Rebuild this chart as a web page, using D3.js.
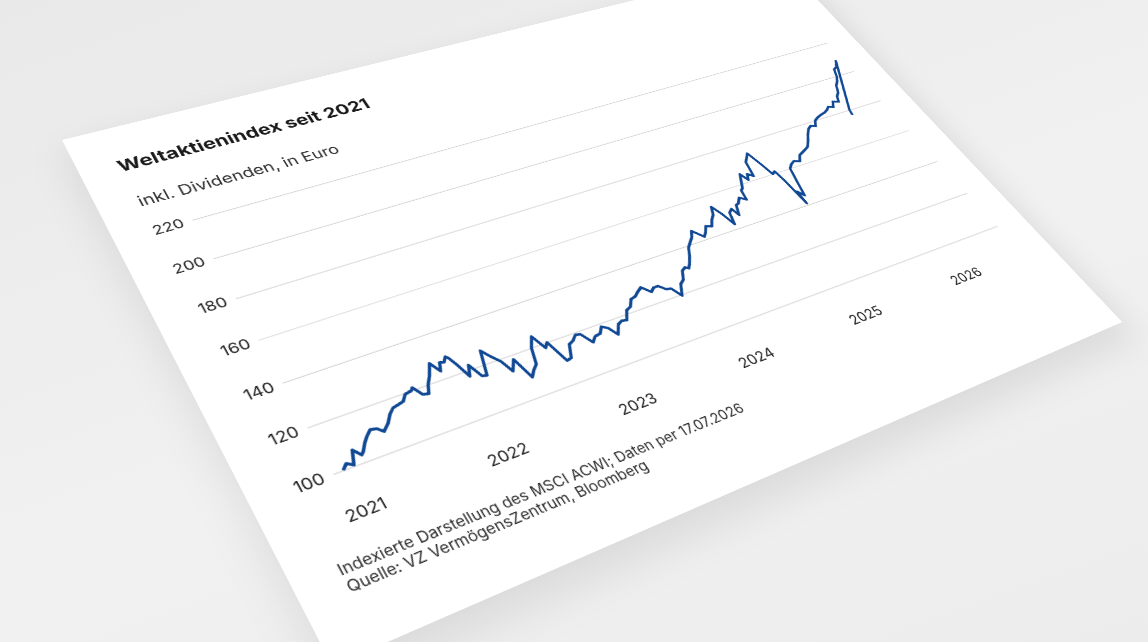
<!DOCTYPE html>
<html>
<head>
<meta charset="utf-8">
<script src="https://cdn.jsdelivr.net/npm/d3@7"></script>
<style>
	html, body { margin: 0; padding: 0; }
	body {
		width: 1148px; height: 642px; overflow: hidden; position: relative;
		background: linear-gradient(160deg, #e9e9ea 0%, #f1f1f2 55%, #ececed 100%);
		font-family: Inter, "Open Sans", sans-serif;
	}
	#card {
		position: absolute; left: 0; top: 0;
		transform-origin: 0 0;
		background: #fff;
		box-shadow: 0 20px 50px rgba(0,0,0,0.10);
	}
	.grid line { stroke: #d4d4d4; stroke-width: 1.2; }
	.tick text { fill: #222; }
</style>
</head>
<body>
<div id="card"></div>
<script>
"use strict";

/* global d3 */

// Index series (MSCI ACWI, EUR, indexed to 100)
var dates = [
	// 2021
	"2021-01-01","2021-01-15","2021-01-29","2021-02-12","2021-02-26","2021-03-05","2021-03-19",
	"2021-03-31","2021-04-15","2021-04-30","2021-05-12","2021-05-31","2021-06-15","2021-06-30",
	"2021-07-15","2021-07-30","2021-08-13","2021-08-31","2021-09-06","2021-09-20","2021-10-04",
	"2021-10-15","2021-10-29","2021-11-16","2021-11-30","2021-12-10","2021-12-20","2021-12-31",
	// 2022
	"2022-01-05","2022-01-14","2022-01-27","2022-02-09","2022-02-24","2022-03-08","2022-03-29",
	"2022-04-12","2022-04-29","2022-05-12","2022-05-31","2022-06-16","2022-06-30","2022-07-15",
	"2022-07-29","2022-08-16","2022-08-31","2022-09-12","2022-09-30","2022-10-14","2022-10-31",
	"2022-11-15","2022-11-30","2022-12-13","2022-12-30",
	// 2023
	"2023-01-13","2023-01-31","2023-02-14","2023-02-28","2023-03-13","2023-03-31","2023-04-14",
	"2023-04-28","2023-05-15","2023-05-31","2023-06-15","2023-06-30","2023-07-14","2023-07-31",
	"2023-08-18","2023-08-31","2023-09-15","2023-09-29","2023-10-13","2023-10-27","2023-11-15",
	"2023-11-30","2023-12-15","2023-12-29",
	// 2024
	"2024-01-05","2024-01-17","2024-01-31","2024-02-15","2024-02-29","2024-03-15","2024-03-28",
	"2024-04-19","2024-04-30","2024-05-15","2024-05-31","2024-06-14","2024-06-28","2024-07-10",
	"2024-07-24","2024-08-05","2024-08-16","2024-08-30","2024-09-06","2024-09-20","2024-09-30",
	"2024-10-15","2024-10-31","2024-11-06","2024-11-15","2024-11-29","2024-12-10","2024-12-20",
	"2024-12-31",
	// 2025
	"2025-01-13","2025-01-24","2025-01-31","2025-02-18","2025-03-04","2025-03-13","2025-03-25",
	"2025-03-31","2025-04-08","2025-04-09","2025-04-21","2025-05-02","2025-05-15","2025-05-30",
	"2025-06-13","2025-06-30","2025-07-15","2025-07-31","2025-08-15","2025-08-29","2025-09-15",
	"2025-09-30","2025-10-15","2025-10-31","2025-11-14","2025-11-28","2025-12-12","2025-12-31",
	// 2026
	"2026-01-15","2026-01-30","2026-02-13","2026-02-27","2026-03-13","2026-03-31","2026-04-09",
	"2026-04-24","2026-05-08","2026-05-22","2026-06-05","2026-06-16","2026-06-30","2026-07-10",
	"2026-07-17","2026-04-10","2026-04-05"
];
var values = [
	// 2021
	100, 102, 100.5, 106, 103, 104, 107,
	109, 111, 110.5, 108.5, 111, 114, 116,
	116.5, 117, 119.5, 120, 121, 117, 116.5,
	120, 123, 128, 123.5, 127, 126.5, 128.5,
	// 2022
	127.5, 124, 117.5, 122, 116, 115.5, 126,
	122.5, 119, 113.5, 118, 108.5, 111, 113,
	120, 124.5, 118, 120, 110, 110.5, 116,
	117, 119, 118.5, 113.5,
	// 2023
	115.5, 116, 118.5, 117, 113, 117, 118,
	117.5, 121.5, 122.5, 125.5, 126, 127.5, 129,
	125.5, 127, 127, 124.5, 124, 119.5, 124.5,
	126, 130, 131,
	// 2024
	130, 132, 135, 139, 141, 143, 146,
	141.5, 143, 146, 145, 148, 150, 154,
	149, 142.5, 148.5, 150, 146, 151, 151.5,
	154, 152, 157, 158, 162, 165, 161,
	164,
	// 2025
	162, 170, 171, 174, 166, 160, 161,
	155, 141, 148, 145, 152, 160, 162,
	163, 162, 165, 166, 167, 168, 171,
	174, 176.5, 178, 177, 180, 181, 182,
	// 2026
	182.5, 183.5, 185, 184, 187, 186, 189,
	191, 195, 197, 200, 204, 205, 207,
	208.5, 180, 177
];

var yTicks = [100, 120, 140, 160, 180, 200, 220];
var xTicks = ["2021", "2022", "2023", "2024", "2025", "2026"];

var title = "Weltaktienindex seit 2021";
var subtitle = "inkl. Dividenden, in Euro";
var footer = [
	"Indexierte Darstellung des MSCI ACWI; Daten per 17.07.2026",
	"Quelle: VZ VermögensZentrum, Bloomberg"
];

// Card geometry (flat) and where its corners land on screen
var card = {w: 1055, h: 727};
var screenCorners = [[62, 140], [783.4, -36.3], [1122, 322], [332.2, 666.1]];

// Plot area inside the card
var plot = {l: 88.6, t: 168.2, w: 921.7, h: 370.1};

// Solve the projective transform that maps the flat card onto the tilted quad
function quadMatrix(src, dst) {
	var A = [], B = [];
	for (var i = 0; i < 4; i++) {
		var x = src[i][0], y = src[i][1], X = dst[i][0], Y = dst[i][1];
		A.push([x, y, 1, 0, 0, 0, -x*X, -y*X]); B.push(X);
		A.push([0, 0, 0, x, y, 1, -x*Y, -y*Y]); B.push(Y);
	}
	for (var c = 0; c < 8; c++) {
		var p = c;
		for (var r = c+1; r < 8; r++) if (Math.abs(A[r][c]) > Math.abs(A[p][c])) p = r;
		var tA = A[c]; A[c] = A[p]; A[p] = tA;
		var tB = B[c]; B[c] = B[p]; B[p] = tB;
		for (r = 0; r < 8; r++) {
			if (r === c) continue;
			var f = A[r][c] / A[c][c];
			for (var k = c; k < 8; k++) A[r][k] -= f*A[c][k];
			B[r] -= f*B[c];
		}
	}
	var h = B.map(function(b, i) { return b / A[i][i]; });
	return [h[0], h[3], 0, h[6], h[1], h[4], 0, h[7], 0, 0, 1, 0, h[2], h[5], 0, 1];
}

var m = quadMatrix([[0, 0], [card.w, 0], [card.w, card.h], [0, card.h]], screenCorners);

var cardDiv = d3.select('#card')
	.style('width', card.w + 'px').style('height', card.h + 'px')
	.style('transform', 'matrix3d(' + m.join(',') + ')');

var svg = cardDiv.append('svg').attr('width', card.w).attr('height', card.h)
	.style('display', 'block');

var parse = d3.timeParse('%Y-%m-%d');
var data = dates.map(function(d, i) { return {date: parse(d), value: values[i]}; });

var x = d3.scaleTime()
	.domain([parse('2020-12-07'), parse('2026-08-12')])
	.range([plot.l, plot.l + plot.w]);
var y = d3.scaleLinear().domain([100, 220]).range([plot.t + plot.h, plot.t]);

// Gridlines + y labels
var yAxis = svg.append('g').attr('class', 'grid')
	.attr('transform', 'translate(' + plot.l + ',0)')
	.call(d3.axisLeft(y).tickValues(yTicks).tickSize(-plot.w).tickPadding(10));
yAxis.select('.domain').remove();
yAxis.selectAll('text').style('font-size', '19px').style('font-family', 'Inter');

// x labels
var xAxis = svg.append('g')
	.attr('transform', 'translate(0,' + (plot.t + plot.h) + ')')
	.call(d3.axisBottom(x).tickValues(xTicks.map(function(t) { return parse(t + '-01-01'); }))
		.tickSize(0).tickPadding(44).tickFormat(d3.timeFormat('%Y')));
xAxis.select('.domain').remove();
xAxis.selectAll('text').style('font-size', '19px').style('font-family', 'Inter');

// The index line
svg.append('path').datum(data)
	.attr('fill', 'none').attr('stroke', '#104894').attr('stroke-width', 3.6)
	.attr('stroke-linejoin', 'round')
	.attr('d', d3.line().x(function(d) { return x(d.date); }).y(function(d) { return y(d.value); }));

// Texts
svg.append('text').attr('x', 43).attr('y', 71).text(title)
	.style('font-size', '25px').style('font-weight', 700).style('fill', '#1a1a1a');
svg.append('text').attr('x', 44.5).attr('y', 129).text(subtitle)
	.style('font-size', '21.5px').style('fill', '#2e2e2e');
svg.selectAll('.foot').data(footer).enter().append('text').attr('class', 'foot')
	.attr('x', 47).attr('y', function(d, i) { return 646 + i*20; })
	.text(function(d) { return d; })
	.style('font-size', '17px').style('fill', '#2e2e2e');
</script>
</body>
</html>
